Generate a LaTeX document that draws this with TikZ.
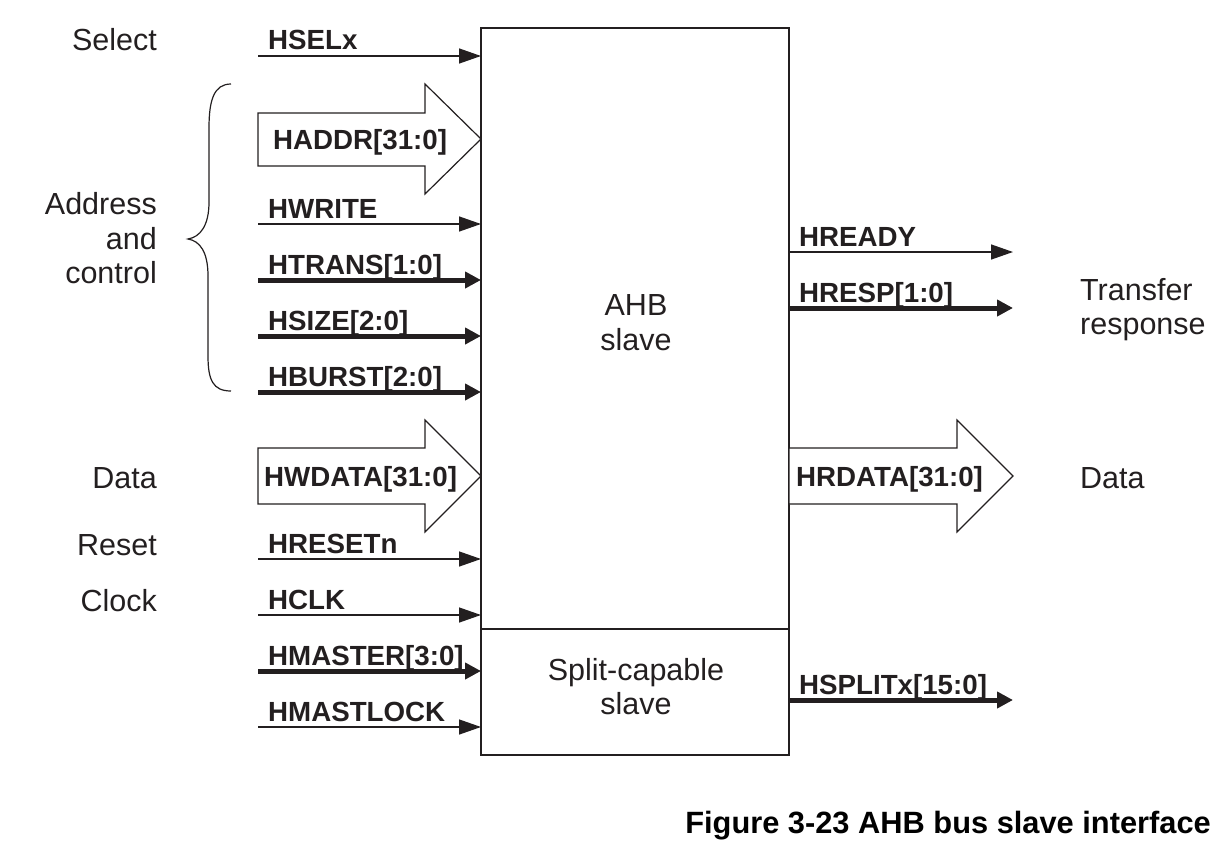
\documentclass[tikz,border=0pt]{standalone}
\usepackage{fontspec}
\setmainfont{Liberation Sans}
\usetikzlibrary{arrows.meta}
\definecolor{ink}{RGB}{35,31,32}
\begin{document}
\begin{tikzpicture}[x=1pt,y=-1pt,
  sig/.style={font=\fontsize{27.7}{30}\selectfont\bfseries, text=ink, inner sep=0pt},
  lbl/.style={font=\fontsize{30.5}{34.5}\selectfont, text=ink, inner sep=0pt},
  thinarrow/.style={draw=ink, line width=1.4pt, -{Triangle[length=22pt,width=15pt]}},
  thickarrow/.style={draw=ink, line width=5pt, -{Triangle[length=16pt,width=16pt]}},
  fat/.style={draw=ink, line width=1.2pt, fill=white, line join=miter},
]
\useasboundingbox (0,0) rectangle (1231,859);

% main block
\node[draw=ink, line width=1.3pt, minimum width=308pt, minimum height=727pt,
      inner sep=0pt, outer sep=0pt] (slave) at (635,391.5) {};
\coordinate (divL) at (481,629);
\draw[ink, line width=1.2pt] (divL) -- (divL -| slave.east);
\node[lbl, align=center] (ahb) at (636,322.5) {AHB\\slave};
\node[lbl, align=center] (split) at (636,686.5) {Split-capable\\slave};

% left thin / thick inputs
\coordinate (hselS) at (258,56);
\coordinate (hwriteS) at (258,224);
\coordinate (htransS) at (258,280);
\coordinate (hsizeS) at (258,336);
\coordinate (hburstS) at (258,392);
\coordinate (hresetS) at (258,559);
\coordinate (hclkS) at (258,615);
\coordinate (hmasterS) at (258,671);
\coordinate (hlockS) at (258,727);

\draw[thinarrow] (hselS) -- (hselS -| slave.west);
\draw[thinarrow] (hwriteS) -- (hwriteS -| slave.west);
\draw[thickarrow] (htransS) -- (htransS -| slave.west);
\draw[thickarrow] (hsizeS) -- (hsizeS -| slave.west);
\draw[thickarrow] (hburstS) -- (hburstS -| slave.west);
\draw[thinarrow] (hresetS) -- (hresetS -| slave.west);
\draw[thinarrow] (hclkS) -- (hclkS -| slave.west);
\draw[thickarrow] (hmasterS) -- (hmasterS -| slave.west);
\draw[thinarrow] (hlockS) -- (hlockS -| slave.west);

\node[sig, anchor=base west] (hsel) at (268,50) {HSELx};
\node[sig, anchor=base west] (hwrite) at (268,218) {HWRITE};
\node[sig, anchor=base west] (htrans) at (268,274) {HTRANS[1:0]};
\node[sig, anchor=base west] (hsize) at (268,330) {HSIZE[2:0]};
\node[sig, anchor=base west] (hburst) at (268,386) {HBURST[2:0]};
\node[sig, anchor=base west] (hreset) at (268,553) {HRESETn};
\node[sig, anchor=base west] (hclk) at (268,609) {HCLK};
\node[sig, anchor=base west] (hmaster) at (268,665) {HMASTER[3:0]};
\node[sig, anchor=base west] (hlock) at (268,721) {HMASTLOCK};

% fat bus arrows
\draw[fat] (258,113) -- (425,113) -- (425,84) -- (481,139) -- (425,194) -- (425,166) -- (258,166) -- cycle;
\node[sig, anchor=base west] (haddr) at (273,149) {HADDR[31:0]};
\draw[fat] (258,448) -- (425,448) -- (425,420) -- (481,476) -- (425,532) -- (425,504) -- (258,504) -- cycle;
\node[sig, anchor=base west] (hwdata) at (264,486) {HWDATA[31:0]};
\draw[fat] (789,448) -- (957,448) -- (957,420) -- (1013,476) -- (957,532) -- (957,504) -- (789,504) -- cycle;
\node[sig, anchor=base west] (hrdata) at (796,486) {HRDATA[31:0]};

% right outputs
\coordinate (hreadyE) at (1013,252);
\coordinate (hrespE) at (1013,308);
\coordinate (hsplitE) at (1013,700);
\draw[thinarrow] (hreadyE -| slave.east) -- (hreadyE);
\draw[thickarrow] (hrespE -| slave.east) -- (hrespE);
\draw[thickarrow] (hsplitE -| slave.east) -- (hsplitE);
\node[sig, anchor=base west] (hready) at (799,246) {HREADY};
\node[sig, anchor=base west] (hresp) at (799,302) {HRESP[1:0]};
\node[sig, anchor=base west] (hsplit) at (799,694) {HSPLITx[15:0]};

% left group labels
\node[lbl, anchor=base east] (select) at (157,51) {Select};
\node[lbl, anchor=east, align=right] (addr) at (157,238.5) {Address\\and\\control};
\node[lbl, anchor=base east] (dataL) at (157,488) {Data};
\node[lbl, anchor=base east] (reset) at (157,555) {Reset};
\node[lbl, anchor=base east] (clock) at (157,611) {Clock};

% right group labels
\node[lbl, anchor=west, align=left] (tresp) at (1080,309.7) {Transfer\\response};
\node[lbl, anchor=base west] (dataR) at (1080,488) {Data};

% brace
\draw[ink, line width=1.2pt] (231,84) .. controls (214,84) and (209,100) .. (209,128)
  -- (209,202) .. controls (209,226) and (200,237) .. (188,239)
  .. controls (200,241) and (208,252) .. (208,276)
  -- (208,356) .. controls (208,380) and (213,391) .. (231,391);

% caption
\node[font=\fontsize{30.8}{34}\selectfont\bfseries, inner sep=0pt, anchor=base east] (cap) at (1211,833) {Figure 3-23 AHB bus slave interface};
\end{tikzpicture}
\end{document}
